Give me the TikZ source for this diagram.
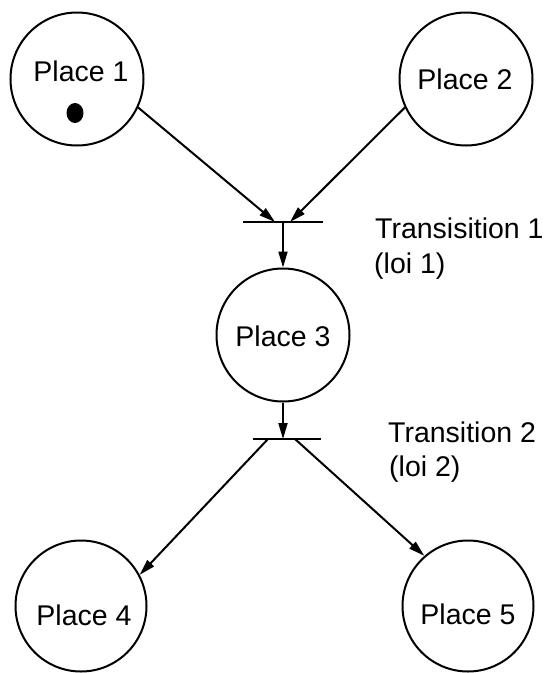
\documentclass[tikz,border=0pt]{standalone}
\usepackage{fontspec}
\setmainfont{Liberation Sans}
\usetikzlibrary{arrows.meta,shapes.geometric}
\begin{document}
\begin{tikzpicture}[x=1pt,y=-1pt,
  place/.style={circle,draw,line width=2pt,minimum size=133pt,inner sep=0pt},
  smallplace/.style={place,minimum size=131pt},
  txt/.style={font=\fontsize{28.5}{34}\selectfont,inner sep=0pt},
  arc/.style={line width=2pt,-{Triangle[length=16pt,width=9pt]}},
  tbar/.style={inner sep=0pt,minimum height=0pt},
  token/.style={ellipse,fill,inner sep=0pt,minimum width=17pt,minimum height=20pt}]
\useasboundingbox (0,0) rectangle (547,673);

% places
\node[place] (p1) at (77,79) {};
\node[place] (p2) at (466,79) {};
\node[place] (p3) at (283,335) {};
\node[smallplace] (p4) at (81,606) {};
\node[smallplace] (p5) at (468,606) {};

% place names and the marking of place 1
\node[txt,anchor=base] (p1t) at (81,81) {Place 1};
\node[token] (tok) at (75,113) {};
\node[txt,anchor=base] (p2t) at (465,89) {Place 2};
\node[txt,anchor=base] (p3t) at (283,346) {Place 3};
\node[txt,anchor=base] (p4t) at (84,625) {Place 4};
\node[txt,anchor=base] (p5t) at (468,624) {Place 5};

% transitions
\node[tbar,minimum width=80pt] (t1) at (283,222) {};
\node[tbar,minimum width=68pt] (t2) at (287,439) {};
\draw[line width=2pt] (t1.west) -- (t1.east);
\draw[line width=2pt] (t2.west) -- (t2.east);
\coordinate (t1l) at (275,222);
\coordinate (t1r) at (290,222);
\coordinate (t2l) at (268,439);
\coordinate (t2r) at (295,439);

% arcs
\draw[arc] (p1.-25) -- (t1l);
\draw[arc] (p2.-155) -- (t1r);
\draw[arc] (t1) -- (p3);
\draw[arc] (p3.south) -- (p3.south |- t2);
\draw[arc] (t2l) -- (p4.28);
\draw[arc] (t2r) -- (p5.131);

% transition labels
\node[txt,anchor=base west] (l1) at (375,238) {Transisition 1};
\node[txt,anchor=base west] (l1b) at (374,273) {(loi 1)};
\node[txt,anchor=base west] (l2) at (388,442) {Transition 2};
\node[txt,anchor=base west] (l2b) at (389,476) {(loi 2)};
\end{tikzpicture}
\end{document}
